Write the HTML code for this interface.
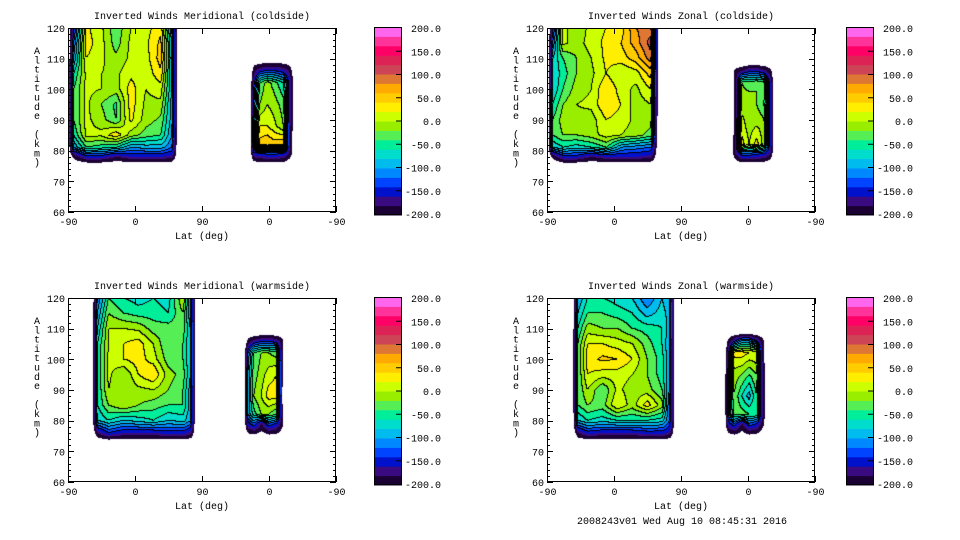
<!DOCTYPE html>
<html><head><meta charset="utf-8">
<style>
html,body{margin:0;padding:0;background:#fff;}
#wrap{position:relative;width:960px;height:540px;overflow:hidden;font-family:"Liberation Mono",monospace;}
canvas{position:absolute;}
svg{position:absolute;left:0;top:0;}
text{font-family:"Liberation Mono",monospace;font-size:10px;fill:#000;}
</style></head>
<body>
<div id="wrap">
<svg id="svg" width="960" height="540"></svg>
</div>
<script>
// ---- data ----
const levelColors = ["#1a0033","#3a0a80","#0011cc","#0044ff","#0088ff","#00bbee","#00ddcc","#00ee99","#55ee55","#99ee00","#ccff00","#ffee00","#ffcc00","#ffaa00","#dd7733","#cc4455","#dd2255","#ff0066","#ff3399","#ff66ee"];
const cbLabels = ["200.0","150.0","100.0","50.0","0.0","-50.0","-100.0","-150.0","-200.0"];
const xTickLabels = ["-90","0","90","0","-90"];
const yTicks = [60,70,80,90,100,110,120];
const titles = ["Inverted Winds Meridional (coldside)","Inverted Winds Zonal (coldside)","Inverted Winds Meridional (warmside)","Inverted Winds Zonal (warmside)"];
const E=-250;
const p1L_us=[0,8,25,45,65,85,105,125,140,148];
const p1L_alts=[120,115,110,105,100,95,90,85,81,78,75];
const p1L_vals=[
[E,-150,25,5,-35,0,10,35,-100,E],
[E,-120,30,8,-30,5,15,45,-80,E],
[E,-100,20,5,-15,5,10,50,-80,E],
[E,-60,5,0,-5,15,5,35,-80,E],
[E,-40,5,0,-10,30,0,10,-80,E],
[E,-40,5,-20,-45,30,-5,-5,-90,E],
[E,-40,5,-10,-40,25,-10,-25,-90,E],
[E,-60,5,5,35,-10,-30,-40,-100,E],
[E,-100,-40,-50,-60,-100,-90,-90,-120,E],
[E,-200,-150,-150,-180,-160,-160,-160,-170,E],
[E,E,E,E,E,E,E,E,E,E]];
const p1R_us=[244,250,258,268,278,290,298,305];
const p1R_alts=[110,107,102,95,88,82,79,75];
const p1R_vals=[
[E,E,E,E,E,E,E,E],
[E,-200,-180,-170,-170,-180,-200,E],
[E,-150,-40,-10,-30,-60,-150,E],
[E,-120,-20,0,-10,-30,-160,E],
[E,-100,20,20,5,-20,-170,E],
[E,-80,50,60,50,60,-180,E],
[E,-150,-140,-130,-130,-140,-190,E],
[E,E,E,E,E,E,E,E]];
const p2L_us=[1,8,22,40,60,80,100,120,140,150];
const p2L_alts=[120,115,110,105,100,95,90,85,81,78,75];
const p2L_vals=[
[E,-150,10,-20,10,20,30,80,90,E],
[E,-120,5,-10,10,25,40,70,110,E],
[E,-80,-40,-20,0,25,30,50,90,E],
[E,-80,-50,-20,-5,20,0,10,50,E],
[E,-80,-40,-10,0,40,10,-5,20,E],
[E,-60,-20,0,5,40,20,-10,0,E],
[E,-40,-10,-5,-10,20,10,-5,-10,E],
[E,-40,-20,-20,-10,10,0,-10,-30,E],
[E,-80,-60,-70,-60,-40,-100,-110,-120,E],
[E,-200,-150,-150,-180,-160,-160,-160,-170,E],
[E,E,E,E,E,E,E,E,E,E]];
const p2R_us=[247,253,262,272,282,292,300,306];
const p2R_alts=[109,106,102,95,88,82,79,75];
const p2R_vals=[
[E,E,E,E,E,E,E,E],
[E,-200,-180,-150,-150,-170,-200,E],
[E,-200,-20,-30,-20,-30,-150,E],
[E,-200,-10,-5,-20,-40,-150,E],
[E,-190,10,-10,0,-10,-150,E],
[E,-180,30,0,30,-10,-150,E],
[E,-180,-120,-120,-130,-140,-180,E],
[E,E,E,E,E,E,E,E]];
const p3L_us=[32,40,55,75,95,115,135,155,165,172];
const p3L_alts=[120,115,110,105,100,95,90,85,80,76,72.7];
const p3L_vals=[
[E,-120,-40,-60,-70,-60,-70,0,-100,E],
[E,-100,-20,-40,-50,-50,-60,-20,-100,E],
[E,-80,0,0,-5,-30,-30,-30,-80,E],
[E,-60,0,20,30,0,-40,-40,-80,E],
[E,-60,5,20,30,10,-30,-40,-80,E],
[E,-60,5,-20,20,40,-10,-30,-80,E],
[E,-60,0,-20,-5,0,-20,-40,-90,E],
[E,-60,-20,0,-20,-30,-40,-40,-90,E],
[E,-80,-60,-80,-70,-60,-80,-70,-100,E],
[E,-180,-140,-160,-160,-160,-150,-150,-170,E],
[E,E,E,E,E,E,E,E,E,E]];
const p3R_us=[236,242,250,260,270,280,288,294];
const p3R_alts=[109,106,102,95,88,82,79,74];
const p3R_vals=[
[E,E,E,E,E,E,E,E],
[E,-200,-170,-150,-150,-160,-200,E],
[E,-120,-40,-20,-20,-30,-200,E],
[E,-100,-30,-10,10,20,-200,E],
[E,-100,-20,0,30,30,-220,E],
[E,-100,-50,-20,-20,-40,-200,E],
[E,-150,-120,-180,-120,-140,-200,E],
[E,E,E,E,E,E,E,E]];
const p4L_us=[34,42,55,75,95,115,135,155,165,173];
const p4L_alts=[120,115,110,105,100,95,90,85,80,76,72.7];
const p4L_vals=[
[E,-100,-60,-60,-70,-80,-120,-80,-100,E],
[E,-80,-40,-40,-50,-60,-90,-70,-90,E],
[E,-60,-10,-20,-20,-40,-50,-60,-90,E],
[E,-40,20,20,10,0,-30,-60,-100,E],
[E,-40,30,45,40,20,-20,-50,-100,E],
[E,-40,20,10,10,0,-20,-50,-100,E],
[E,-40,0,-40,5,-10,-10,-40,-100,E],
[E,-40,-20,-30,20,-10,30,-10,-120,E],
[E,-80,-60,-70,-60,-60,-60,-70,-120,E],
[E,-180,-150,-160,-160,-160,-150,-150,-170,E],
[E,E,E,E,E,E,E,E,E,E]];
const p4R_us=[238,244,252,262,272,282,290,296];
const p4R_alts=[109,106,102,95,88,82,79,74];
const p4R_vals=[
[E,E,E,E,E,E,E,E],
[E,-200,-150,-100,-100,-150,-200,E],
[E,-150,30,30,20,20,-200,E],
[E,-120,-10,-20,-40,-20,-180,E],
[E,-120,-20,-60,-90,-40,-180,E],
[E,-120,-30,-30,-40,-40,-180,E],
[E,-150,-120,-180,-120,-140,-200,E],
[E,E,E,E,E,E,E,E]];

const panels=[
 {x:68,y:28,cb:374,blocks:[[p1L_us,p1L_alts,p1L_vals],[p1R_us,p1R_alts,p1R_vals]]},
 {x:547,y:28,cb:846,blocks:[[p2L_us,p2L_alts,p2L_vals],[p2R_us,p2R_alts,p2R_vals]]},
 {x:68,y:298,cb:374,blocks:[[p3L_us,p3L_alts,p3L_vals],[p3R_us,p3R_alts,p3R_vals]]},
 {x:547,y:298,cb:846,blocks:[[p4L_us,p4L_alts,p4L_vals],[p4R_us,p4R_alts,p4R_vals]]}];

const W=268,H=184;
const xScale=u=>u/360*W;
const yScale=a=>H-(a-60)/60*H;
const uInv=px=>px/W*360;
const aInv=py=>120-py/H*60;

function seg(arr,v,desc){
  for(let i=0;i<arr.length-1;i++){
    const a=arr[i],b=arr[i+1];
    if(desc? (v<=a&&v>=b):(v>=a&&v<=b)){return [i,(v-a)/(b-a)];}
  }
  return null;
}
function valueAt(blocks,u,a){
  for(const [us,als,vals] of blocks){
    const s=seg(us,u,false), t=seg(als,a,true);
    if(!s||!t)continue;
    const [i,fx]=s,[j,fy]=t;
    const v00=vals[j][i],v10=vals[j][i+1],v01=vals[j+1][i],v11=vals[j+1][i+1];
    return (v00*(1-fx)+v10*fx)*(1-fy)+(v01*(1-fx)+v11*fx)*fy;
  }
  return null;
}
function hex(c){return [parseInt(c.substr(1,2),16),parseInt(c.substr(3,2),16),parseInt(c.substr(5,2),16)];}
const rgb=levelColors.map(hex);

const wrap=document.getElementById('wrap');
const svg=document.getElementById('svg');
const NS="http://www.w3.org/2000/svg";
function el(tag,attrs,parent){const e=document.createElementNS(NS,tag);for(const k in attrs)e.setAttribute(k,attrs[k]);(parent||svg).appendChild(e);return e;}

panels.forEach((p,pi)=>{
  const cv=document.createElement('canvas');
  cv.width=W;cv.height=H;cv.style.left=p.x+'px';cv.style.top=p.y+'px';
  
  
  wrap.insertBefore(cv,svg);
  const ctx=cv.getContext('2d');
  const img=ctx.createImageData(W,H);
  const lev=new Int16Array(W*H).fill(-99);
  for(let py=0;py<H;py++)for(let px=0;px<W;px++){
    const v=valueAt(p.blocks,uInv(px+0.5),aInv(py+0.5));
    if(v===null||v<-212)continue;
    lev[py*W+px]=Math.max(0,Math.min(19,Math.floor((v+200)/20)));
  }
  for(let py=0;py<H;py++)for(let px=0;px<W;px++){
    const k=py*W+px,L=lev[k],o=k*4;
    if(L===-99){img.data[o]=255;img.data[o+1]=255;img.data[o+2]=255;img.data[o+3]=255;continue;}
    let line=false;
    if(px+1<W&&lev[k+1]!==-99&&lev[k+1]!==L&&Math.min(L,lev[k+1])>1)line=true;
    if(py+1<H&&lev[k+W]!==-99&&lev[k+W]!==L&&Math.min(L,lev[k+W])>1)line=true;
    const c=line?[0,0,0]:rgb[L];
    img.data[o]=c[0];img.data[o+1]=c[1];img.data[o+2]=c[2];img.data[o+3]=255;
  }
  ctx.putImageData(img,0,0);

  const g=el('g',{transform:`translate(${p.x},${p.y})`});
  
  
  const fr=el('rect',{x:0.5,y:0.5,width:W-1,height:H-1,fill:'none',stroke:'#000','stroke-width':1},g);
  
  
  for(let a=60;a<=120;a+=2){
    const y=Math.round(yScale(a))+0.5,len=(a%10===0)?6:3;
    el('line',{x1:0,y1:y,x2:len,y2:y,stroke:'#000'},g);
    el('line',{x1:W-len,y1:y,x2:W,y2:y,stroke:'#000'},g);
  }
  yTicks.forEach(a=>{
    const t=el('text',{x:-3,y:yScale(a)+4,'text-anchor':'end'},g);
    t.textContent=a;
    
    
  });
  xTickLabels.forEach((lab,i)=>{
    const x=Math.round(xScale(i*90))+0.5;
    el('line',{x1:x,y1:0,x2:x,y2:6,stroke:'#000'},g);
    el('line',{x1:x,y1:H-6,x2:x,y2:H,stroke:'#000'},g);
    const t=el('text',{x:x,y:H+13,'text-anchor':'middle'},g);
    t.textContent=lab;
    
    
  });
  const xt=el('text',{x:W/2,y:H+27,'text-anchor':'middle'},g);
  xt.textContent='Lat (deg)';
  
  
  const tt=el('text',{x:W/2,y:-9,'text-anchor':'middle'},g);
  tt.textContent=titles[pi];
  
  
  const yt=el('text',{x:-31,y:26,'text-anchor':'middle'},g);
  
  
  'Altitude (km)'.split('').forEach((ch,ci)=>{
    const ts=el('tspan',{x:-31,y:26+ci*9.3},yt);ts.textContent=ch===' '?'\u00a0':ch;
  });

  const cg=el('g',{transform:`translate(${p.cb},${p.y-1})`});
  
  
  const cbH=188,bh=cbH/levelColors.length;
  levelColors.forEach((c,i)=>{
    const r=el('rect',{x:0,y:cbH-(i+1)*bh,width:28,height:bh+0.5,fill:c},cg);
    
    
  });
  el('rect',{x:0.5,y:0.5,width:27,height:cbH-1,fill:'none',stroke:'#000'},cg);
  cbLabels.forEach((lab,i)=>{
    const y=i*(cbH-2)/(cbLabels.length-1)+1;
    if(i>0&&i<cbLabels.length-1)el('line',{x1:22,y1:y,x2:28,y2:y,stroke:'#000'},cg);
    const t=el('text',{x:67,y:y+4,'text-anchor':'end'},cg);
    t.textContent=lab;
    
    
  });
});
const ft=el('text',{x:577,y:524});
ft.textContent='2008243v01 Wed Aug 10 08:45:31 2016';


</script>
</body></html>
